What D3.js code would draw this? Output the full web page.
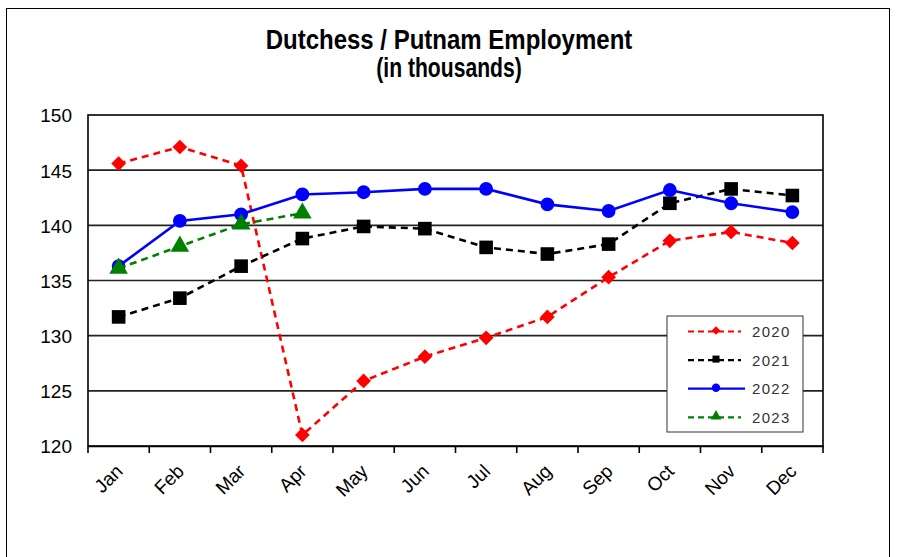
<!DOCTYPE html>
<html><head><meta charset="utf-8">
<script src="https://cdn.jsdelivr.net/npm/d3@7"></script>
<style>body{margin:0;background:#fff}svg{display:block;font-family:"Liberation Sans",Arial,sans-serif}</style>
</head><body>
<svg id="c" width="904" height="557"></svg>
<script>
const months = ["Jan","Feb","Mar","Apr","May","Jun","Jul","Aug","Sep","Oct","Nov","Dec"];
const yTicks = [120,125,130,135,140,145,150];
const s2020 = [145.6,147.1,145.4,121.0,125.9,128.1,129.8,131.7,135.3,138.6,139.4,138.4];
const s2021 = [131.7,133.4,136.3,138.8,139.9,139.7,138.0,137.4,138.3,142.0,143.3,142.7];
const s2022 = [136.3,140.4,141.0,142.8,143.0,143.3,143.3,141.9,141.3,143.2,142.0,141.2];
const s2023 = [136.1,138.1,140.1,141.1];
const seriesNames = ["2020","2021","2022","2023"];

const diamond = {draw(ctx,size){const r=Math.sqrt(size)/2*1.2; ctx.moveTo(0,-r);ctx.lineTo(r,0);ctx.lineTo(0,r);ctx.lineTo(-r,0);ctx.closePath();}};

const series = [
  {name:seriesNames[0], values:s2020, color:"#ff0000", dash:"7,5", sym:diamond, size:150},
  {name:seriesNames[1], values:s2021, color:"#000000", dash:"7,5", sym:d3.symbolSquare, size:185},
  {name:seriesNames[2], values:s2022, color:"#0000ff", dash:null, sym:d3.symbolCircle, size:150},
  {name:seriesNames[3], values:s2023, color:"#008000", dash:"7,5", sym:d3.symbolTriangle, size:150}
];

const svg = d3.select("#c");
const L=88, R=823, T=115, B=446;

svg.append("rect").attr("x",6.5).attr("y",8.5).attr("width",883).attr("height",560)
  .attr("fill","none").attr("stroke","#000").attr("stroke-width",1);

svg.append("text").attr("text-anchor","middle")
  .attr("transform","translate(449,49) scale(1,1.13)")
  .attr("font-weight","bold").attr("font-size",24).text("Dutchess / Putnam Employment");
svg.append("text").attr("text-anchor","middle")
  .attr("transform","translate(449,77) scale(0.88,1.13)")
  .attr("font-weight","bold").attr("font-size",24).text("(in thousands)");

const x = d3.scaleBand().domain(months).range([L,R]);
const y = d3.scaleLinear().domain([120,150]).range([B,T]);

// gridlines
svg.append("g").selectAll("line").data(yTicks.filter(t=>t>120&&t<150)).join("line")
  .attr("x1",L).attr("x2",R).attr("y1",d=>y(d)).attr("y2",d=>y(d))
  .attr("stroke","#222").attr("stroke-width",1.6);

// plot border
svg.append("rect").attr("x",L).attr("y",T).attr("width",R-L).attr("height",B-T)
  .attr("fill","none").attr("stroke","#000").attr("stroke-width",1.6);

// y axis
const ya = svg.append("g").attr("transform",`translate(${L},0)`)
  .call(d3.axisLeft(y).tickValues(yTicks).tickSize(0).tickPadding(16));
ya.select(".domain").remove();
ya.selectAll("text").attr("font-size",19).attr("fill","#000").attr("font-family","Liberation Sans, Arial, sans-serif")
  .attr("dy","0.36em");

// x axis
const xa = svg.append("g").attr("transform",`translate(0,${B})`)
  .call(d3.axisBottom(x).tickSize(0));
xa.select(".domain").attr("stroke","#000").attr("stroke-width",1.6);
xa.selectAll(".tick").each(function(){
  const t = d3.select(this).select("text");
  t.attr("font-size",19).attr("fill","#000").attr("font-family","Liberation Sans, Arial, sans-serif")
   .attr("text-anchor","end").attr("dy","0.7em").attr("y",0)
   .attr("transform","translate(-4,17) rotate(-45)");
});
// tick marks at band boundaries
const bounds = months.map(m=>x(m)).concat([R]);
svg.append("g").selectAll("line").data(bounds).join("line")
  .attr("x1",d=>d).attr("x2",d=>d).attr("y1",B).attr("y2",B+7)
  .attr("stroke","#000").attr("stroke-width",1.6);

const cx = i => x(months[i]) + x.bandwidth()/2;
const line = d3.line().x((d,i)=>cx(i)).y(d=>y(d));

series.forEach(s=>{
  svg.append("path").attr("d",line(s.values)).attr("fill","none")
    .attr("stroke",s.color).attr("stroke-width",2.6)
    .attr("stroke-dasharray",s.dash);
  svg.append("g").selectAll("path").data(s.values).join("path")
    .attr("d",d3.symbol().type(s.sym).size(s.size))
    .attr("transform",(d,i)=>`translate(${cx(i)},${y(d)})`)
    .attr("fill",s.color);
});

// legend
const lg = svg.append("g");
lg.append("rect").attr("x",667).attr("y",316).attr("width",136).attr("height",116)
  .attr("fill","#fff").attr("stroke","#333").attr("stroke-width",1);
series.forEach((s,i)=>{
  const yy = 331.5 + i*28.6;
  lg.append("line").attr("x1",688).attr("x2",s.dash?741:745).attr("y1",yy).attr("y2",yy)
    .attr("stroke",s.color).attr("stroke-width",2.2).attr("stroke-dasharray",s.dash?"6,4":null);
  lg.append("path").attr("d",d3.symbol().type(s.sym).size(s.sym===d3.symbolCircle?55:50))
    .attr("transform",`translate(716,${yy-1})`).attr("fill",s.color);
  lg.append("text").attr("x",752).attr("y",yy+5.5).attr("font-size",15).attr("letter-spacing",1.3)
    .attr("fill","#333").text(s.name);
});
</script>
</body></html>
